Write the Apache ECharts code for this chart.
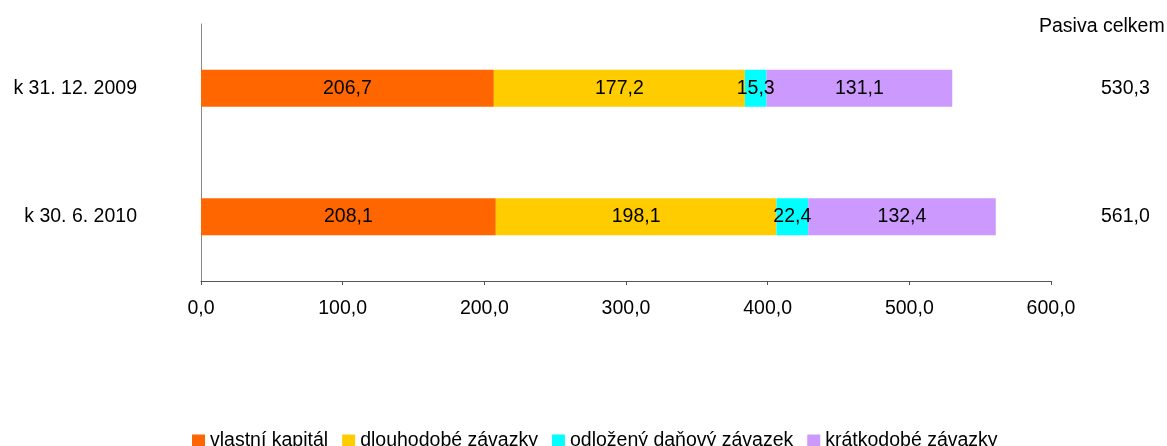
<!DOCTYPE html>
<html>
<head>
<meta charset="utf-8">
<script src="https://cdn.jsdelivr.net/npm/echarts@6/dist/echarts.min.js"></script>
<style>
  html, body { margin: 0; padding: 0; background: #fff; }
  #chart { width: 1167px; height: 446px; }
</style>
</head>
<body>
<div id="chart"></div>
<script>
    // data
    var categories = ['k 31. 12. 2009', 'k 30. 6. 2010'];
    var vlastniKapital = [206.7, 208.1];
    var dlouhodobeZavazky = [177.2, 198.1];
    var odlozenyDan = [15.3, 22.4];
    var kratkodobeZavazky = [131.1, 132.4];
    var pasivaCelkem = [530.3, 561.0];

    var fmt = function (v) { return v.toFixed(1).replace('.', ','); };
    var font = 'Liberation Sans, Arial, sans-serif';
    var fs = 19.5;

    var chart = echarts.init(document.getElementById('chart'));

    var labelStyle = {
        show: true,
        position: 'inside',
        color: '#000',
        fontSize: fs,
        fontFamily: font,
        formatter: function (p) { return fmt(p.value); }
    };

    function makeSeries(name, data) {
        return {
            name: name,
            type: 'bar',
            stack: 'total',
            barWidth: 37,
            label: labelStyle,
            data: data
        };
    }

    var option = {
        animation: false,
        textStyle: { fontFamily: font },
        color: ['#ff6600', '#ffcc00', '#00ffff', '#cc99ff'],

        title: {
            text: 'Pasiva celkem',
            left: 1034,
            top: 12,
            textStyle: { fontSize: fs, fontWeight: 'normal', color: '#000', fontFamily: font }
        },

        // Setup grid
        grid: {
            left: 201,
            right: 116,
            top: 24,
            bottom: 165
        },

        // Add legend
        legend: {
            top: 426,
            left: 187,
            itemWidth: 13,
            itemHeight: 13,
            itemGap: 14,
            icon: 'rect',
            textStyle: { fontSize: fs, color: '#000', fontFamily: font },
            data: ['vlastní kapitál', 'dlouhodobé závazky', 'odložený daňový závazek', 'krátkodobé závazky']
        },

        // Horizontal axis
        xAxis: [{
            type: 'value',
            min: 0,
            max: 600,
            interval: 100,
            splitLine: { show: false },
            axisLine: { show: true, lineStyle: { color: '#555' } },
            axisTick: { show: true, length: 4, lineStyle: { color: '#555' } },
            axisLabel: { color: '#000', fontSize: fs, margin: 18, formatter: fmt }
        }],

        // Vertical axis
        yAxis: [{
            type: 'category',
            inverse: true,
            data: categories,
            axisLine: { lineStyle: { color: '#888' } },
            axisTick: { length: 5, lineStyle: { color: '#000' } },
            axisLabel: { color: '#000', fontSize: fs, margin: 64 }
        }, {
            type: 'category',
            inverse: true,
            position: 'right',
            data: pasivaCelkem.map(fmt),
            axisLine: { show: false },
            axisTick: { show: false },
            axisLabel: { color: '#000', fontSize: fs, margin: 50 }
        }],

        // Add series
        series: [
            makeSeries('vlastní kapitál', vlastniKapital),
            makeSeries('dlouhodobé závazky', dlouhodobeZavazky),
            makeSeries('odložený daňový závazek', odlozenyDan),
            makeSeries('krátkodobé závazky', kratkodobeZavazky)
        ]
    };

    chart.setOption(option);
</script>
</body>
</html>
